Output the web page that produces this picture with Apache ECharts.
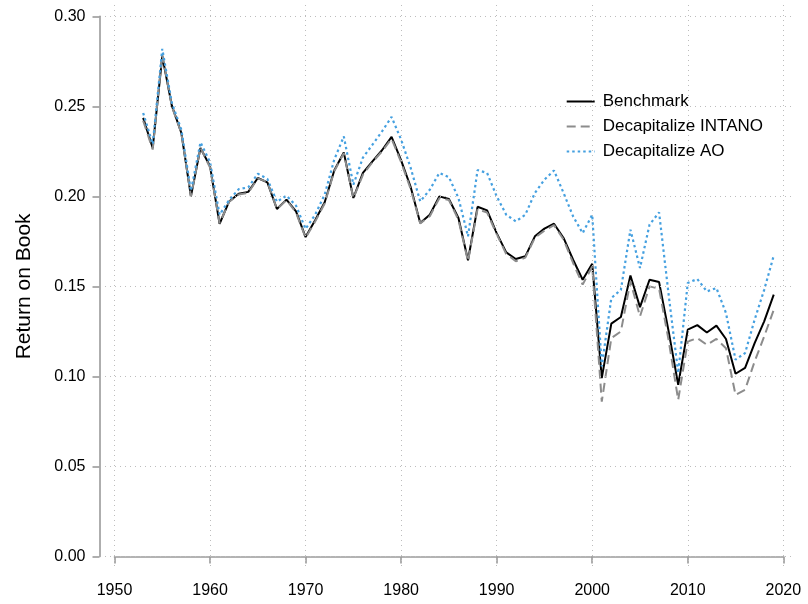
<!DOCTYPE html>
<html lang="en">
<head>
<meta charset="UTF-8">
<title>Return on Book</title>
<script src="https://cdn.jsdelivr.net/npm/echarts@6/dist/echarts.min.js"></script>
</head>
<body style="margin:0; background:#fff">
<div id="container" style="width:808px; height:604px"></div>
<script>
var years = [1953, 1954, 1955, 1956, 1957, 1958, 1959, 1960, 1961, 1962,
    1963, 1964, 1965, 1966, 1967, 1968, 1969, 1970, 1971, 1972,
    1973, 1974, 1975, 1976, 1977, 1978, 1979, 1980, 1981, 1982,
    1983, 1984, 1985, 1986, 1987, 1988, 1989, 1990, 1991, 1992,
    1993, 1994, 1995, 1996, 1997, 1998, 1999, 2000, 2001, 2002,
    2003, 2004, 2005, 2006, 2007, 2008, 2009, 2010, 2011, 2012,
    2013, 2014, 2015, 2016, 2017, 2018, 2019];

var benchmark = [0.2436, 0.2269, 0.2778, 0.2504, 0.2352, 0.2000, 0.2269, 0.2167, 0.1848, 0.1972,
    0.2015, 0.2025, 0.2102, 0.2078, 0.1930, 0.1982, 0.1917, 0.1774, 0.1867, 0.1967,
    0.2144, 0.2244, 0.1991, 0.2130, 0.2194, 0.2256, 0.2330, 0.2200, 0.2052, 0.1852,
    0.1898, 0.2000, 0.1985, 0.1880, 0.1645, 0.1942, 0.1922, 0.1796, 0.1689, 0.1652,
    0.1667, 0.1778, 0.1821, 0.1848, 0.1769, 0.1648, 0.1537, 0.1626, 0.0991, 0.1293,
    0.1330, 0.1561, 0.1385, 0.1537, 0.1524, 0.1250, 0.0954, 0.1260, 0.1285, 0.1244,
    0.1282, 0.1208, 0.1015, 0.1047, 0.1185, 0.1306, 0.1454];

var intano = [0.2420, 0.2260, 0.2790, 0.2500, 0.2350, 0.2000, 0.2270, 0.2160, 0.1850, 0.1970,
    0.2010, 0.2020, 0.2100, 0.2080, 0.1930, 0.1980, 0.1910, 0.1770, 0.1860, 0.1960,
    0.2140, 0.2240, 0.1990, 0.2120, 0.2190, 0.2250, 0.2320, 0.2190, 0.2040, 0.1850,
    0.1890, 0.1990, 0.1980, 0.1870, 0.1640, 0.1930, 0.1910, 0.1790, 0.1680, 0.1640,
    0.1660, 0.1770, 0.1810, 0.1840, 0.1760, 0.1630, 0.1510, 0.1610, 0.0860, 0.1213,
    0.1250, 0.1528, 0.1333, 0.1500, 0.1487, 0.1200, 0.0870, 0.1194, 0.1213, 0.1176,
    0.1208, 0.1157, 0.0898, 0.0926, 0.1083, 0.1222, 0.1370];

var ao = [0.2463, 0.2290, 0.2819, 0.2520, 0.2370, 0.2030, 0.2300, 0.2190, 0.1898, 0.1980,
    0.2040, 0.2050, 0.2126, 0.2097, 0.1970, 0.2004, 0.1948, 0.1819, 0.1898, 0.2010,
    0.2204, 0.2333, 0.2065, 0.2215, 0.2287, 0.2361, 0.2441, 0.2315, 0.2158, 0.1972,
    0.2037, 0.2130, 0.2107, 0.1991, 0.1778, 0.2146, 0.2130, 0.2000, 0.1898, 0.1861,
    0.1898, 0.2019, 0.2093, 0.2144, 0.2019, 0.1889, 0.1796, 0.1898, 0.1056, 0.1435,
    0.1481, 0.1815, 0.1602, 0.1843, 0.1911, 0.1454, 0.1019, 0.1519, 0.1541, 0.1472,
    0.1491, 0.1352, 0.1093, 0.1130, 0.1315, 0.1481, 0.1671];

var xTicks = [1950, 1960, 1970, 1980, 1990, 2000, 2010, 2020];
var yTicks = [0, 0.05, 0.10, 0.15, 0.20, 0.25, 0.30];

var font = '"Liberation Sans", Arial, Helvetica, sans-serif';
var axisGray = '#9a9a9a';

function pairs(vals) {
    return years.map(function (y, i) { return [y, vals[i]]; });
}

// dotted reference lines, drawn in a slightly larger grid so they run past the axes
var gridLines = xTicks.map(function (v) { return {xAxis: v}; })
    .concat(yTicks.map(function (v) { return {yAxis: v}; }));

var dom = document.getElementById('container');
var myChart = echarts.init(dom, null, {renderer: 'canvas'});

var option = {
    animation: false,
    backgroundColor: '#ffffff',
    textStyle: {fontFamily: font},
    grid: [
        {left: 105, right: 16, top: 5, bottom: 38},
        {left: 114.5, right: 24.7, top: 16.3, bottom: 47.5}
    ],
    xAxis: [
        {gridIndex: 0, type: 'value', min: 1949.006, max: 2020.91, show: false},
        {
            gridIndex: 1, type: 'value', min: 1950, max: 2020, interval: 10, offset: 16.5,
            axisLine: {show: true, lineStyle: {color: axisGray, width: 1.6}},
            axisTick: {show: true, length: 7, lineStyle: {color: axisGray, width: 1.6}},
            axisLabel: {
                color: '#000', fontSize: 16, margin: 10, fontFamily: font,
                formatter: function (v) { return String(v); }
            },
            splitLine: {show: false}
        }
    ],
    yAxis: [
        {gridIndex: 0, type: 'value', min: -0.00528, max: 0.30628, show: false},
        {
            gridIndex: 1, type: 'value', min: 0, max: 0.30, interval: 0.05, offset: 15,
            name: 'Return on Book', nameLocation: 'middle', nameRotate: 90, nameGap: 65,
            nameTextStyle: {color: '#000', fontSize: 21, fontFamily: font},
            axisLine: {show: true, lineStyle: {color: axisGray, width: 1.6}},
            axisTick: {show: true, length: 7, lineStyle: {color: axisGray, width: 1.6}},
            axisLabel: {
                color: '#000', fontSize: 16, margin: 14, fontFamily: font,
                formatter: function (v) { return v.toFixed(2); }
            },
            splitLine: {show: false}
        }
    ],
    legend: {
        orient: 'vertical',
        left: 560.7,
        top: 88,
        itemWidth: 28,
        itemHeight: 18,
        itemGap: 8,
        itemStyle: {opacity: 0},
        textStyle: {color: '#000', fontSize: 17, fontFamily: font, padding: [0, 0, 0, 3]},
        data: ['Benchmark', 'Decapitalize INTANO', 'Decapitalize AO']
    },
    series: [
        {
            type: 'line', xAxisIndex: 0, yAxisIndex: 0, silent: true,
            data: [[1950, 0]], symbol: 'none', lineStyle: {opacity: 0},
            markLine: {
                silent: true, symbol: 'none', label: {show: false},
                lineStyle: {color: '#bdbdbd', width: 1, type: [1, 4]},
                data: gridLines
            }
        },
        {
            name: 'Benchmark', type: 'line', xAxisIndex: 1, yAxisIndex: 1,
            data: pairs(benchmark), symbol: 'none',
            lineStyle: {color: '#000000', width: 2}, itemStyle: {color: '#000000'}
        },
        {
            name: 'Decapitalize INTANO', type: 'line', xAxisIndex: 1, yAxisIndex: 1,
            data: pairs(intano), symbol: 'none',
            lineStyle: {color: '#8c8c8c', width: 2, type: [9, 5]}, itemStyle: {color: '#8c8c8c'}
        },
        {
            name: 'Decapitalize AO', type: 'line', xAxisIndex: 1, yAxisIndex: 1,
            data: pairs(ao), symbol: 'none',
            lineStyle: {color: '#45a0e0', width: 2.2, type: [2.5, 3]}, itemStyle: {color: '#45a0e0'}
        }
    ]
};

if (option && typeof option === 'object') {
    myChart.setOption(option, true);
}
</script>
</body>
</html>
